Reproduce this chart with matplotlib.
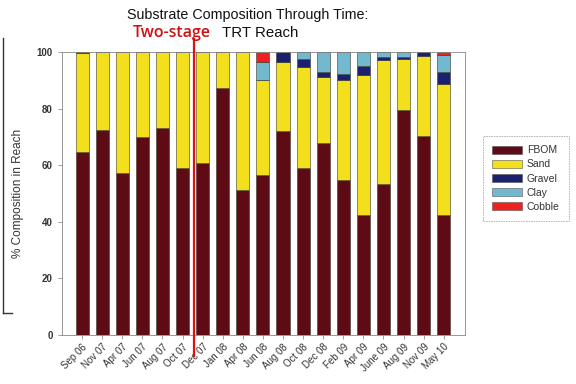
import matplotlib

matplotlib.use("Agg")

import matplotlib.pyplot as plt
import numpy as np
from matplotlib.lines import Line2D
from matplotlib.patches import Patch

plt.rcParams["font.family"] = ["Liberation Sans", "DejaVu Sans"]

dates = ["Sep 06", "Nov 07", "Apr 07", "Jun 07", "Aug 07", "Oct 07", "Dec 07",
         "Jan 08", "Apr 08", "Jun 08", "Aug 08", "Oct 08", "Dec 08", "Feb 09",
         "Apr 09", "June 09", "Aug 09", "Nov 09", "May 10"]

fbom = [64.5, 72.5, 57.3, 70.0, 73.2, 59.0, 60.6, 87.3, 51.3, 56.7, 72.0, 59.0,
        67.8, 54.9, 42.4, 53.2, 79.6, 70.2, 42.4]
sand = [35.0, 27.5, 42.7, 30.0, 26.8, 41.0, 39.4, 12.7, 48.7, 33.4, 24.6, 35.6,
        23.5, 35.2, 49.3, 44.0, 17.9, 28.4, 46.2]
gravel = [0.5, 0, 0, 0, 0, 0, 0, 0, 0, 0, 3.4, 2.9, 1.7, 2.0, 3.3, 1.1, 0.8, 1.4, 4.4]
clay = [0, 0, 0, 0, 0, 0, 0, 0, 0, 6.5, 0, 2.5, 7.0, 7.9, 5.0, 1.7, 1.7, 0, 6.0]
cobble = [0, 0, 0, 0, 0, 0, 0, 0, 0, 3.4, 0, 0, 0, 0, 0, 0, 0, 0, 1.0]

series = [
    ("FBOM", fbom, "#5e0b16"),
    ("Sand", sand, "#f4df1c"),
    ("Gravel", gravel, "#1b2170"),
    ("Clay", clay, "#72b9cf"),
    ("Cobble", cobble, "#ee2020"),
]

stage_split = 5.55  # between Oct 07 and Dec 07

fig = plt.figure(figsize=(5.76, 3.84), dpi=100)
ax = fig.add_axes([0.1076, 0.1276, 0.6994, 0.737])

x = np.arange(len(dates))
bottom = np.zeros(len(dates))
handles = []
for name, values, color in series:
    values = np.array(values)
    ax.bar(x, values, width=0.65, bottom=bottom, color=color,
           edgecolor="#3a3a2a", linewidth=0.4)
    bottom += values
    handles.append(Patch(facecolor=color, edgecolor="#555555", linewidth=0.4, label=name))

ax.set_xlim(-1, 19.05)
ax.set_ylim(0, 100)
ax.set_yticks([0, 20, 40, 60, 80, 100])
ax.tick_params(axis="y", labelsize=7, length=3, width=0.5, color="#777777")
for lab in ax.get_yticklabels():
    lab.set_fontweight("bold")
    lab.set_color("#333333")
ax.set_xticks(x)
ax.set_xticklabels(dates, rotation=45, ha="right", rotation_mode="anchor",
                   fontsize=7, color="#333333")
ax.tick_params(axis="x", length=3, width=0.5, color="#777777", pad=2)
for spine in ax.spines.values():
    spine.set_linewidth(0.6)
    spine.set_color("#888888")
ax.set_ylabel("% Composition in Reach", fontsize=8.5, color="#333333", labelpad=9)

ax.plot([stage_split, stage_split], [-7.5, 104.5], color="#e01010",
        linewidth=1.6, clip_on=False, zorder=5)

fig.text(0.43, 0.962, "Substrate Composition Through Time:", fontsize=10.3,
         ha="center", va="center", color="#111111")
fig.text(0.231, 0.915, "Two-stage", fontsize=11.5, ha="left", va="center",
         color="#cc1111", fontweight="semibold", family=["Open Sans", "DejaVu Sans"])
fig.text(0.385, 0.915, "TRT Reach", fontsize=10.8, ha="left", va="center",
         color="#111111")

leg = fig.legend(handles=handles, loc="upper left", bbox_to_anchor=(0.838, 0.646),
                 fontsize=7.5, frameon=True, fancybox=False, handlelength=2.9,
                 handleheight=0.8, labelspacing=0.4, borderpad=0.9, handletextpad=0.45,
                 borderaxespad=0)
leg.get_frame().set_edgecolor("#999999")
leg.get_frame().set_linewidth(0.6)
leg.get_frame().set_linestyle((0, (2, 1)))
for t in leg.get_texts():
    t.set_color("#333333")

fig.add_artist(Line2D([0.005, 0.005], [0.185, 0.9], color="#333333", linewidth=1.0))
fig.add_artist(Line2D([0.005, 0.02], [0.185, 0.185], color="#333333", linewidth=1.0))

fig.savefig("out.png", dpi=100)
plt.close(fig)
